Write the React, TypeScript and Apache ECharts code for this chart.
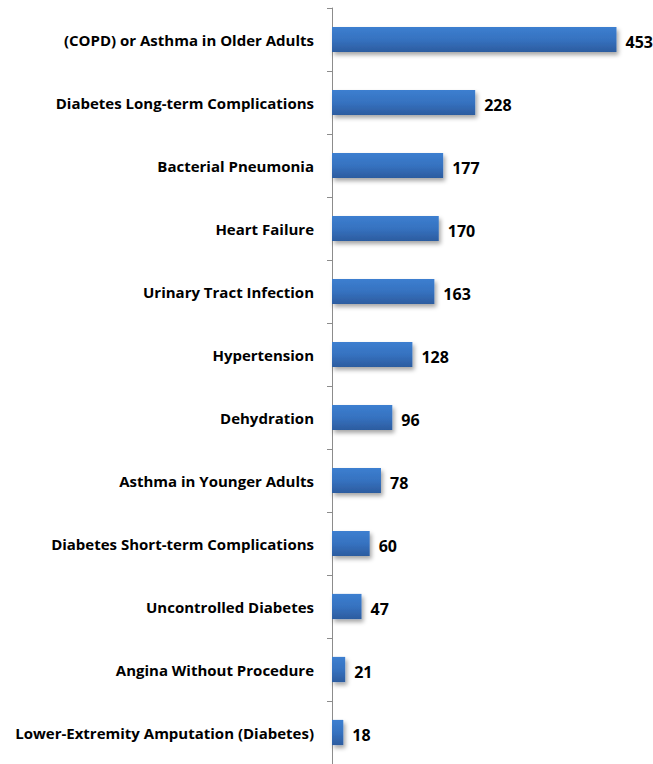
import React, { useEffect, useRef } from "react";
import * as echarts from "echarts";

const categories = [
  "(COPD) or Asthma in Older Adults",
  "Diabetes Long-term Complications",
  "Bacterial Pneumonia",
  "Heart Failure",
  "Urinary Tract Infection",
  "Hypertension",
  "Dehydration",
  "Asthma in Younger Adults",
  "Diabetes Short-term Complications",
  "Uncontrolled Diabetes",
  "Angina Without Procedure",
  "Lower-Extremity Amputation (Diabetes)",
];
const values = [453, 228, 177, 170, 163, 128, 96, 78, 60, 47, 21, 18];

export default function App() {
  const ref = useRef<HTMLDivElement>(null);
  useEffect(() => {
    if (!ref.current) return;
    const chart = echarts.init(ref.current, undefined, { renderer: "svg" });
    chart.setOption({
      animation: false,
      grid: { left: 332, right: 7, top: 8, bottom: -2, containLabel: false },
      xAxis: {
        type: "value",
        min: 0,
        max: 500,
        show: false,
      },
      yAxis: {
        type: "category",
        data: categories,
        inverse: true,
        axisLine: { show: true, lineStyle: { color: "#8c8c8c", width: 1 } },
        axisTick: { show: true, length: 5, lineStyle: { color: "#8c8c8c" } },
        axisLabel: {
          margin: 18,
          fontFamily: "'Open Sans', sans-serif",
          fontWeight: "bold",
          fontSize: 15,
          color: "#000",
        },
        splitLine: { show: false },
      },
      series: [
        {
          type: "bar",
          data: values,
          barWidth: "40%",
          itemStyle: {
            color: new echarts.graphic.LinearGradient(0, 0, 0, 1, [
              { offset: 0, color: "#3c7fd0" },
              { offset: 0.5, color: "#3672c0" },
              { offset: 1, color: "#2c5c9f" },
            ]),
            shadowColor: "rgba(0,0,0,0.35)",
            shadowBlur: 4,
            shadowOffsetX: 2,
            shadowOffsetY: 3,
          },
          label: {
            show: true,
            position: "right",
            distance: 9,
            offset: [0, 2],
            fontFamily: "'Open Sans', sans-serif",
            fontWeight: "bold",
            fontSize: 16,
            color: "#000",
          },
        },
      ],
    });
    return () => chart.dispose();
  }, []);
  return <div ref={ref} style={{ width: 653, height: 764, position: "absolute", left: 0, top: 0 }} />;
}
